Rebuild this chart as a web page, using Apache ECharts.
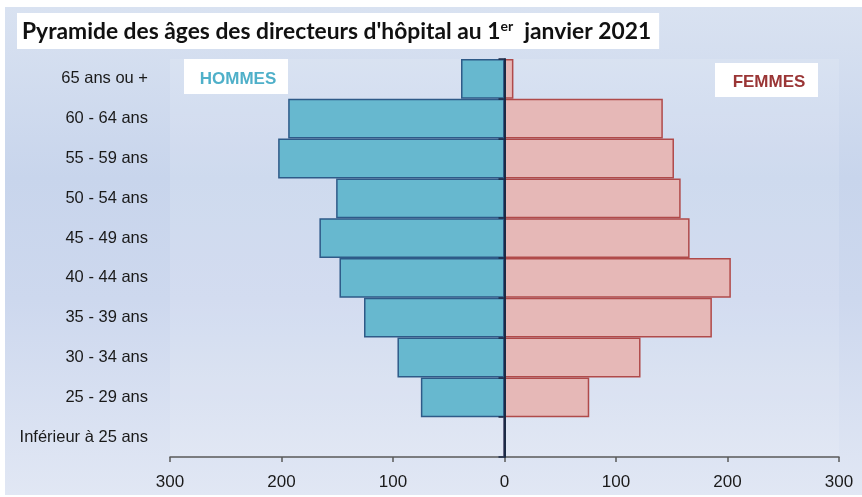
<!DOCTYPE html>
<html>
<head>
<meta charset="utf-8">
<script src="https://cdn.jsdelivr.net/npm/echarts@6/dist/echarts.min.js"></script>
<style>html,body{margin:0;padding:0;background:#fff}#c{width:862px;height:497px}</style>
</head>
<body>
<div id="c"></div>
<script>
var categories = ['Inférieur à 25 ans', '25 - 29 ans', '30 - 34 ans', '35 - 39 ans', '40 - 44 ans', '45 - 49 ans', '50 - 54 ans', '55 - 59 ans', '60 - 64 ans', '65 ans ou +'];
var hommes = [1, 75, 96, 126, 148, 166, 151, 203, 194, 39];
var femmes = [0, 76, 122, 186, 203, 166, 158, 152, 142, 8];
var xTicks = [-300, -200, -100, 0, 100, 200, 300];

var chart = echarts.init(document.getElementById('c'));
var font = "'Liberation Sans', Arial, sans-serif";
var titleFont = "Lato, 'Open Sans', sans-serif";
chart.setOption({
  animation: false,
  graphic: [
    {type: 'rect', z: -10, silent: true, shape: {x: 5, y: 7, width: 857, height: 488},
     style: {fill: new echarts.graphic.LinearGradient(0, 0, 0, 1, [
       {offset: 0, color: '#d9e2f1'}, {offset: 0.35, color: '#c8d5ec'}, {offset: 0.6, color: '#cdd8ee'}, {offset: 1, color: '#e1e7f4'}])}},
    {type: 'rect', z: -9, silent: true, shape: {x: 170, y: 59, width: 669, height: 398},
     style: {fill: 'rgba(255,255,255,0.12)'}},
    {type: 'rect', z: 10, shape: {x: 184, y: 59, width: 104, height: 35}, style: {fill: '#ffffff'}},
    {type: 'text', z: 11, style: {text: 'HOMMES', x: 238, y: 79, align: 'center', verticalAlign: 'middle',
      font: "bold 17px " + font, fill: '#4fb0c9'}},
    {type: 'rect', z: 10, shape: {x: 715, y: 63, width: 103, height: 34}, style: {fill: '#ffffff'}},
    {type: 'text', z: 11, style: {text: 'FEMMES', x: 769, y: 82, align: 'center', verticalAlign: 'middle',
      font: "bold 17px " + font, fill: '#9a3535'}}
  ],
  title: {
    text: "{a|Pyramide des âges des directeurs d'hôpital au 1}{s|er}{a|  janvier 2021}",
    left: 17, top: 13,
    backgroundColor: '#ffffff',
    padding: [6, 8, 6, 5],
    textStyle: {
      rich: {
        a: {fontFamily: titleFont, fontSize: 22.8, color: '#111', fontWeight: 'bold', lineHeight: 25},
        s: {fontFamily: titleFont, fontSize: 14, color: '#111', fontWeight: 'bold', verticalAlign: 'top', lineHeight: 25, padding: [0, 0, 10, 0]}
      }
    }
  },
  grid: {left: 170, right: 23, top: 59, bottom: 40, containLabel: false},
  xAxis: {
    type: 'value', min: -300, max: 300, interval: 100,
    axisLine: {show: true, onZero: false, lineStyle: {color: '#5a5a5a', width: 1.5}},
    axisTick: {show: true, length: 5, lineStyle: {color: '#5a5a5a', width: 1.5}},
    splitLine: {show: false},
    axisLabel: {formatter: function (v) { return xTicks.indexOf(v) >= 0 ? String(Math.abs(v)) : ''; },
      fontFamily: font, fontSize: 17, color: '#1a1a1a', margin: 17}
  },
  yAxis: [{
    type: 'category', data: categories, position: 'left',
    axisLine: {show: false, onZero: false}, axisTick: {show: false},
    axisLabel: {fontFamily: font, fontSize: 16.5, color: '#1a1a1a', margin: 22}
  }, {
    type: 'category', data: categories, position: 'right', z: 5,
    axisLine: {show: true, onZero: true, onZeroAxisIndex: 0, lineStyle: {color: '#1c2a45', width: 2}},
    axisTick: {show: true, inside: true, length: 6, lineStyle: {color: '#1c2a45', width: 1.5}},
    axisLabel: {show: false}
  }],
  series: [{
    name: 'HOMMES', type: 'bar', yAxisIndex: 0,
    data: hommes.map(function (v) { return -v; }),
    barCategoryGap: 0, barGap: '-100%',
    itemStyle: {color: '#67b8cf', borderColor: '#2e5a88', borderWidth: 1.5}
  }, {
    name: 'FEMMES', type: 'bar', yAxisIndex: 0,
    data: femmes,
    barCategoryGap: 0, barGap: '-100%',
    itemStyle: {color: '#e6b8b7', borderColor: '#b04a4a', borderWidth: 1.5}
  }]
});
</script>
</body>
</html>
